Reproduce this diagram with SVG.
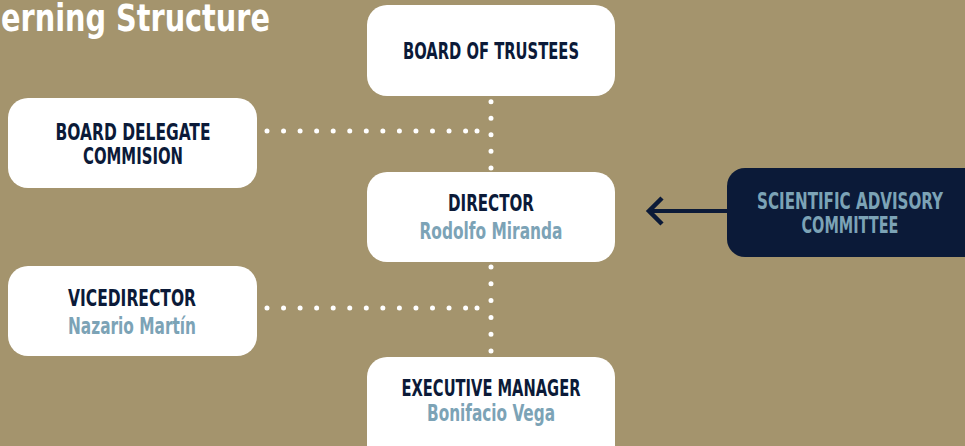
<svg xmlns="http://www.w3.org/2000/svg" width="965" height="446" viewBox="0 0 965 446">
<defs>
<style>
.bg{fill:#A4946D}
.box{fill:#FFFFFF}
.dark{fill:#0B1A38}
text{font-family:"Liberation Sans Narrow","DejaVu Sans Condensed","Roboto",sans-serif;font-weight:bold;text-anchor:middle}
.t{fill:#0B1A38;font-size:22.5px}
.n{fill:#7CA3B6;font-size:22.5px}
.s{fill:#7CA3B6;font-size:22.5px}
.title{fill:#FFFFFF;font-size:37px;text-anchor:start}
.dots{fill:none;stroke:#FFFFFF;stroke-width:5;stroke-linecap:round;stroke-dasharray:0 16.55}
.dot{fill:#FFFFFF}
.arrow{fill:none;stroke:#0B1A38;stroke-width:4}
</style>
</defs>
<rect class="bg" x="0" y="0" width="965" height="446"/>
<text class="title" x="1" y="31" textLength="269" lengthAdjust="spacingAndGlyphs">erning Structure</text>
<g id="connectors">
<path class="dots" d="M491 101.7 V168"/>
<path class="dots" d="M491 267 V352" style="stroke-dasharray:0 16.8"/>
<path class="dots" d="M267 131 H466"/>
<circle class="dot" cx="477" cy="131" r="2.5"/>
<path class="dots" d="M267 308 H466"/>
<circle class="dot" cx="477" cy="308" r="2.5"/>
<path class="arrow" d="M727 211 H650"/>
<path class="arrow" d="M662 198 L649 211 L662 224" style="stroke-width:4.5"/>
</g>
<g id="board-of-trustees">
<rect class="box" x="367" y="5" width="248" height="91" rx="20"/>
<text class="t" x="491" y="59" textLength="176" lengthAdjust="spacingAndGlyphs">BOARD OF TRUSTEES</text>
</g>
<g id="board-delegate">
<rect class="box" x="8" y="98" width="249" height="90" rx="20"/>
<text class="t" x="133" y="140" textLength="155" lengthAdjust="spacingAndGlyphs">BOARD DELEGATE</text>
<text class="t" x="133" y="164" textLength="100" lengthAdjust="spacingAndGlyphs">COMMISION</text>
</g>
<g id="director">
<rect class="box" x="367" y="172" width="248" height="90" rx="20"/>
<text class="t" x="491" y="211" textLength="86" lengthAdjust="spacingAndGlyphs">DIRECTOR</text>
<text class="n" x="491" y="239" textLength="143" lengthAdjust="spacingAndGlyphs">Rodolfo Miranda</text>
</g>
<g id="scientific-advisory">
<rect class="dark" x="727" y="168" width="258" height="89" rx="18"/>
<text class="s" x="850" y="209" textLength="186" lengthAdjust="spacingAndGlyphs">SCIENTIFIC ADVISORY</text>
<text class="s" x="850" y="233" textLength="97" lengthAdjust="spacingAndGlyphs">COMMITTEE</text>
</g>
<g id="vicedirector">
<rect class="box" x="8" y="266" width="249" height="90" rx="20"/>
<text class="t" x="132" y="306" textLength="128" lengthAdjust="spacingAndGlyphs">VICEDIRECTOR</text>
<text class="n" x="132" y="334" textLength="128" lengthAdjust="spacingAndGlyphs">Nazario Martín</text>
</g>
<g id="executive-manager">
<rect class="box" x="367" y="357" width="248" height="110" rx="20"/>
<text class="t" x="491" y="396" textLength="179" lengthAdjust="spacingAndGlyphs">EXECUTIVE MANAGER</text>
<text class="n" x="491" y="421" textLength="128" lengthAdjust="spacingAndGlyphs">Bonifacio Vega</text>
</g>
</svg>
